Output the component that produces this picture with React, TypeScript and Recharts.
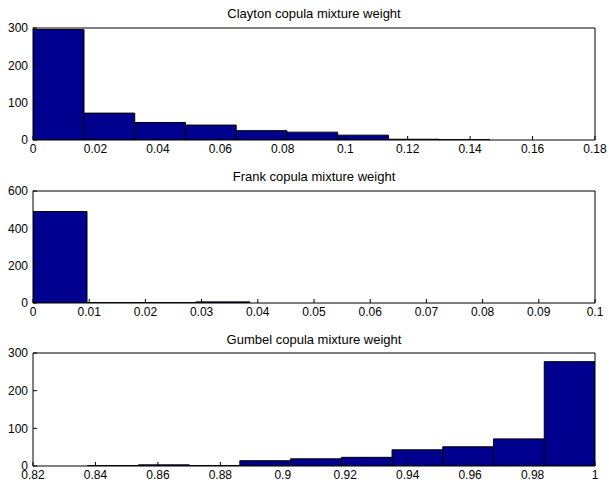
import React from 'react';
import { BarChart, Bar, XAxis, YAxis } from 'recharts';

// bin centres and counts
const claytonBins = [0.008125, 0.024375, 0.040625, 0.056875, 0.073125, 0.089375, 0.105625, 0.121875, 0.138125];
const claytonCounts = [296, 72, 47, 40, 25, 21, 13, 2, 1];
const claytonXTicks = [0, 0.02, 0.04, 0.06, 0.08, 0.1, 0.12, 0.14, 0.16, 0.18];
const claytonYTicks = [0, 100, 200, 300];

const frankBins = [0.00483, 0.01449, 0.02415, 0.03381, 0.04347, 0.05313, 0.06279, 0.07245, 0.08211, 0.09177];
const frankCounts = [490, 2, 2, 6, 0, 0, 0, 0, 0, 0];
const frankXTicks = [0, 0.01, 0.02, 0.03, 0.04, 0.05, 0.06, 0.07, 0.08, 0.09, 0.1];
const frankYTicks = [0, 200, 400, 600];

const gumbelBins = [0.845625, 0.861875, 0.878125, 0.894375, 0.910625, 0.926875, 0.943125, 0.959375, 0.975625, 0.991875];
const gumbelCounts = [1, 3, 1, 14, 19, 23, 43, 51, 72, 277];
const gumbelXTicks = [0.82, 0.84, 0.86, 0.88, 0.9, 0.92, 0.94, 0.96, 0.98, 1];
const gumbelYTicks = [0, 100, 200, 300];

const FONT = '"Liberation Sans", Arial, Helvetica, sans-serif';
const tickStyle = { fill: '#000', fontSize: 12, fontFamily: FONT };
const fmt = (v: number) => String(Number(v.toFixed(2)));

type PanelProps = {
  title: string;
  bins: number[];
  counts: number[];
  xTicks: number[];
  yTicks: number[];
  top: number;
  height: number;
  marginTop: number;
  titleTop: number;
};

const HistPanel = ({ title, bins, counts, xTicks, yTicks, top, height, marginTop, titleTop }: PanelProps) => {
  const data = bins.map((x, i) => ({ x, count: counts[i] }));
  const xDomain = [xTicks[0], xTicks[xTicks.length - 1]];
  const yDomain = [yTicks[0], yTicks[yTicks.length - 1]];

  return (
    <div style={{ position: 'absolute', left: 0, top, width: 609, height }}>
      <div
        style={{
          position: 'absolute',
          left: 33,
          width: 562,
          top: titleTop,
          textAlign: 'center',
          fontSize: 13,
          lineHeight: '13px',
          fontFamily: FONT,
          color: '#000',
        }}
      >
        {title}
      </div>
      <BarChart
        width={609}
        height={height}
        data={data}
        margin={{ top: marginTop - 1, right: 13, bottom: 0, left: 0 }}
        barCategoryGap={0}
        barGap={0}
      >
        <XAxis
          xAxisId="b"
          dataKey="x"
          type="number"
          domain={xDomain}
          ticks={xTicks}
          allowDataOverflow
          interval={0}
          height={20}
          tickSize={-4}
          tickMargin={8}
          stroke="#000"
          tick={tickStyle}
          tickFormatter={fmt}
        />
        {/* box top edge with inward ticks */}
        <XAxis
          xAxisId="t"
          orientation="top"
          dataKey="x"
          type="number"
          domain={xDomain}
          ticks={xTicks}
          allowDataOverflow
          interval={0}
          height={1}
          tickSize={-4}
          tick={false}
          stroke="#000"
        />
        <YAxis
          yAxisId="l"
          type="number"
          domain={yDomain}
          ticks={yTicks}
          allowDataOverflow
          interval={0}
          width={33}
          tickSize={-4}
          tickMargin={9}
          stroke="#000"
          tick={tickStyle}
        />
        {/* box right edge */}
        <YAxis
          yAxisId="r"
          orientation="right"
          type="number"
          domain={yDomain}
          ticks={yTicks}
          allowDataOverflow
          interval={0}
          width={1}
          tickSize={-4}
          tick={false}
          stroke="#000"
        />
        <Bar
          xAxisId="b"
          yAxisId="l"
          dataKey="count"
          fill="#00008f"
          stroke="#000"
          strokeWidth={1}
          isAnimationActive={false}
        />
      </BarChart>
    </div>
  );
};

export default function App() {
  return (
    <div style={{ position: 'absolute', left: 0, top: 0, width: 609, height: 483, overflow: 'hidden', background: '#fff' }}>
      <HistPanel
        title="Clayton copula mixture weight"
        bins={claytonBins}
        counts={claytonCounts}
        xTicks={claytonXTicks}
        yTicks={claytonYTicks}
        top={0}
        height={160}
        marginTop={28}
        titleTop={7}
      />
      <HistPanel
        title="Frank copula mixture weight"
        bins={frankBins}
        counts={frankCounts}
        xTicks={frankXTicks}
        yTicks={frankYTicks}
        top={160}
        height={163}
        marginTop={31}
        titleTop={10}
      />
      <HistPanel
        title="Gumbel copula mixture weight"
        bins={gumbelBins}
        counts={gumbelCounts}
        xTicks={gumbelXTicks}
        yTicks={gumbelYTicks}
        top={320}
        height={166}
        marginTop={33}
        titleTop={13}
      />
    </div>
  );
}
